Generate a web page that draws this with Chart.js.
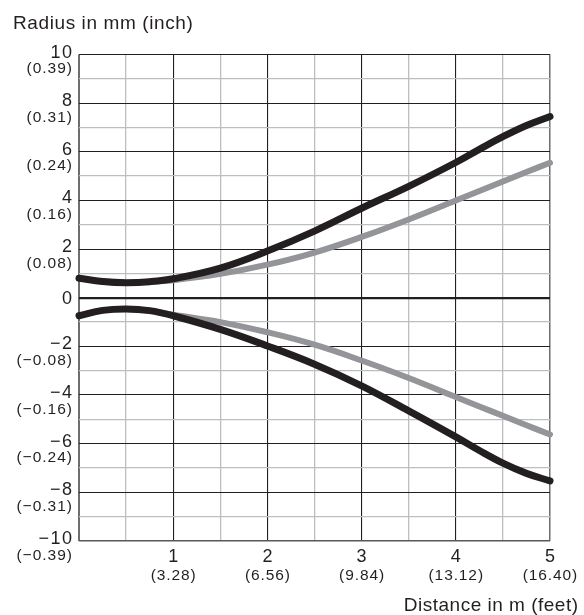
<!DOCTYPE html>
<html>
<head>
<meta charset="utf-8">
<script src="https://cdn.jsdelivr.net/npm/chart.js@4/dist/chart.umd.min.js"></script>
<style>
  body { margin: 0; background: #fff; }
  #wrap { width: 584px; height: 615px; position: relative; }
</style>
</head>
<body>
<div id="wrap"><canvas id="beamChart"></canvas></div>
<script>
// Distance in m
const distances = [0, 0.25, 0.5, 0.75, 1, 1.5, 2, 2.5, 3, 3.5, 4, 4.25, 4.5, 4.75, 5];

// Radius in mm
const blackUpper = [0.8, 0.67, 0.62, 0.66, 0.78, 1.22, 1.92, 2.74, 3.68, 4.58, 5.56, 6.1, 6.62, 7.08, 7.45];
const blackLower = [-0.74, -0.52, -0.46, -0.53, -0.74, -1.3, -1.98, -2.73, -3.62, -4.65, -5.72, -6.28, -6.8, -7.22, -7.53];
const grayUpper = [0.8, 0.67, 0.62, 0.66, 0.72, 0.98, 1.36, 1.86, 2.5, 3.22, 4.0, 4.39, 4.78, 5.17, 5.55];
const grayLower = [-0.74, -0.52, -0.46, -0.53, -0.7, -1.0, -1.42, -1.93, -2.58, -3.3, -4.08, -4.47, -4.85, -5.24, -5.62];

// Tick labels
const yTickValues = [10, 8, 6, 4, 2, 0, -2, -4, -6, -8, -10];
const yTickMm = ['10', '8', '6', '4', '2', '0', '\u22122', '\u22124', '\u22126', '\u22128', '\u221210'];
const yTickInch = ['(0.39)', '(0.31)', '(0.24)', '(0.16)', '(0.08)', '', '(\u22120.08)', '(\u22120.16)', '(\u22120.24)', '(\u22120.31)', '(\u22120.39)'];
const xTickValues = [1, 2, 3, 4, 5];
const xTickM = ['1', '2', '3', '4', '5'];
const xTickFeet = ['(3.28)', '(6.56)', '(9.84)', '(13.12)', '(16.40)'];

const yTitle = 'Radius in mm (inch)';
const xTitle = 'Distance in m (feet)';

const BLACK = '#231f20';
const GRAY = '#939598';
const FONT = '"Liberation Sans", Arial, sans-serif';

const toPoints = (ys) => distances.map((d, i) => ({ x: d, y: ys[i] }));

// set font + letter spacing in one go
function setFont(ctx, size, spacing) {
    ctx.font = size + 'px ' + FONT;
    ctx.letterSpacing = spacing + 'px';
}

// Draws the two-line tick labels and axis titles from the scales
const labelPlugin = {
    id: 'labelPlugin',
    afterDraw(chart) {
        const ctx = chart.ctx;
        const xs = chart.scales.x;
        const ys = chart.scales.y;
        const area = chart.chartArea;
        ctx.save();
        ctx.fillStyle = BLACK;

        // y ticks (right aligned; letter spacing adds trailing space, so shift right)
        ctx.textAlign = 'right';
        ctx.textBaseline = 'alphabetic';
        yTickValues.forEach((v, i) => {
            const py = ys.getPixelForValue(v);
            const px = area.left - 7;
            if (yTickInch[i] === '') {
                setFont(ctx, 18, 1.5);
                ctx.fillText(yTickMm[i], px + 1.5, py + 6);
            } else {
                setFont(ctx, 18, 1.5);
                ctx.fillText(yTickMm[i], px + 1.5, py + 3);
                setFont(ctx, 15.5, 1.0);
                ctx.fillText(yTickInch[i], px + 1.0, py + 18.5);
            }
        });

        // x ticks
        ctx.textAlign = 'center';
        xTickValues.forEach((v, i) => {
            const px = xs.getPixelForValue(v);
            setFont(ctx, 18, 1.5);
            ctx.fillText(xTickM[i], px + 0.75, area.bottom + 20.5);
            setFont(ctx, 15.5, 0.9);
            ctx.fillText(xTickFeet[i], px + 0.45, area.bottom + 38.5);
        });

        // axis titles
        setFont(ctx, 19, 0.6);
        ctx.textAlign = 'left';
        ctx.fillText(yTitle, 13, 28.5);
        setFont(ctx, 19, 0.5);
        ctx.textAlign = 'right';
        ctx.fillText(xTitle, 578.5, 611);
        ctx.restore();
    }
};

const lineSet = (label, ys, color, width, order) => ({
    label,
    data: toPoints(ys),
    borderColor: color,
    borderWidth: width,
    borderCapStyle: 'round',
    borderJoinStyle: 'round',
    pointRadius: 0,
    tension: 0.4,
    fill: false,
    clip: 10,
    order
});

const ctx = document.getElementById('beamChart').getContext('2d');
new Chart(ctx, {
    type: 'line',
    data: {
        datasets: [
            lineSet('black upper', blackUpper, BLACK, 7, 1),
            lineSet('black lower', blackLower, BLACK, 7, 1),
            lineSet('gray upper', grayUpper, GRAY, 6, 2),
            lineSet('gray lower', grayLower, GRAY, 6, 2)
        ]
    },
    options: {
        responsive: true,
        maintainAspectRatio: false,
        animation: false,
        layout: { padding: { left: 79, right: 34, top: 54.5, bottom: 74 } },
        plugins: { legend: { display: false }, tooltip: { enabled: false } },
        scales: {
            x: {
                type: 'linear',
                min: 0,
                max: 5,
                ticks: { display: false, stepSize: 0.5 },
                border: { display: false },
                grid: {
                    drawTicks: false,
                    color: (c) => {
                        const v = c.tick.value;
                        if (v === 0 || v === 5) return '#6d6e71';
                        return Number.isInteger(v) ? BLACK : '#bcbec0';
                    },
                    lineWidth: (c) => {
                        const v = c.tick.value;
                        if (v === 0) return 2;
                        if (v === 5) return 1.5;
                        return Number.isInteger(v) ? 1.1 : 1.3;
                    }
                }
            },
            y: {
                type: 'linear',
                min: -10,
                max: 10,
                ticks: { display: false, stepSize: 1 },
                border: { display: false },
                grid: {
                    drawTicks: false,
                    color: (c) => {
                        const v = c.tick.value;
                        if (v === -10) return '#58595b';
                        return v % 2 === 0 ? BLACK : '#bcbec0';
                    },
                    lineWidth: (c) => {
                        const v = c.tick.value;
                        if (v === 0) return 2.2;
                        if (v === -10) return 1.5;
                        return v % 2 === 0 ? 1.1 : 1.3;
                    }
                }
            }
        }
    },
    plugins: [labelPlugin]
});
</script>
</body>
</html>
